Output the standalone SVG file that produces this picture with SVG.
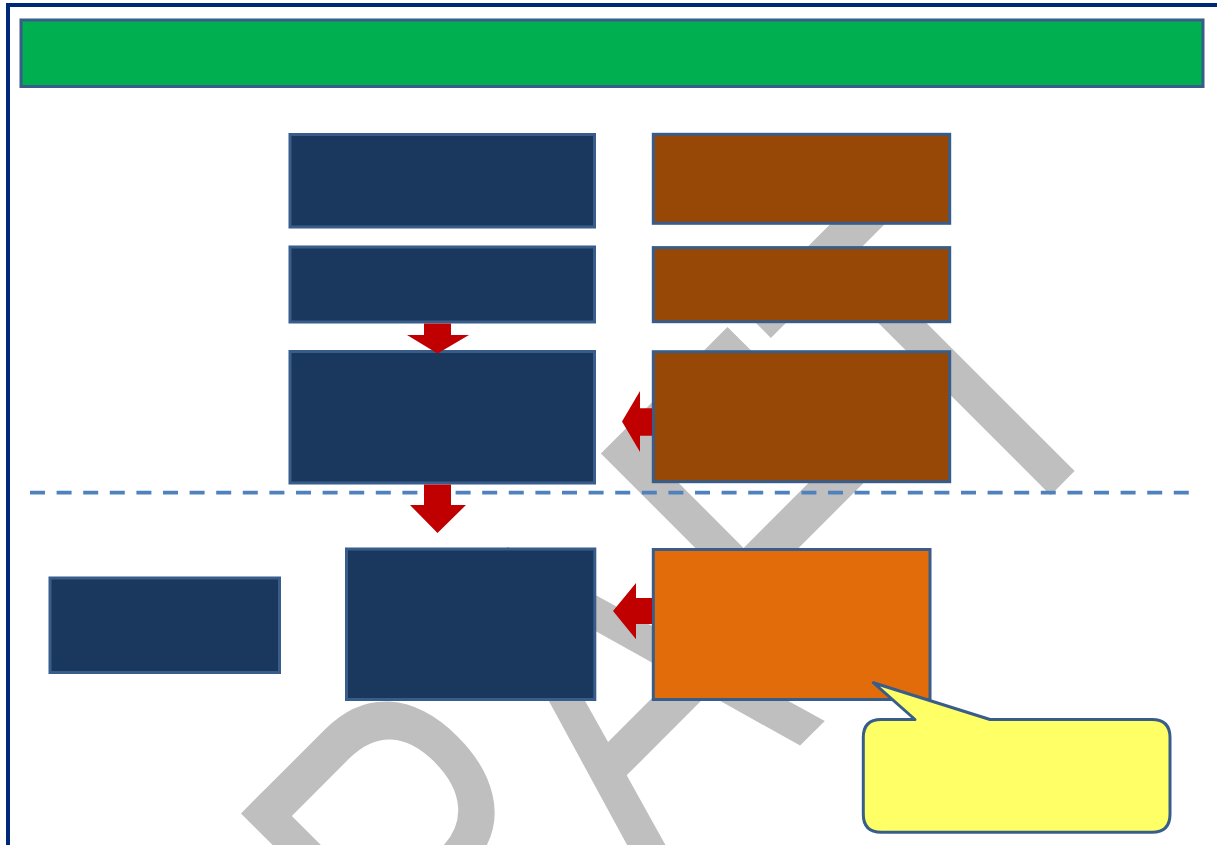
<svg xmlns="http://www.w3.org/2000/svg" width="1217" height="845" viewBox="0 0 1217 845">
  <style>
    .navy { fill: #1a385e; stroke: #385d8a; stroke-width: 3; }
    .brown { fill: #974806; stroke: #385d8a; stroke-width: 3; }
    .orange { fill: #e36c0a; stroke: #385d8a; stroke-width: 3; }
    .arrow { fill: #c00000; stroke: none; }
    .wm { fill: #bfbfbf; font-family: "Liberation Sans", Arial, sans-serif; font-size: 505px; font-kerning: none; }
  </style>
  <rect x="0" y="0" width="1217" height="845" fill="#ffffff"/>
  <rect x="8" y="5" width="1240" height="870" fill="none" stroke="#002878" stroke-width="4"/>

  <g id="watermark">
    <text class="wm" transform="rotate(-45) scale(0.7255 1)" x="-964" y="1093">DRAFT</text>
  </g>

  <g id="title-bar">
    <rect x="21" y="20" width="1182" height="66.5" fill="#00b050" stroke="#385d8a" stroke-width="3"/>
  </g>

  <line id="divider" x1="30" y1="492.5" x2="1190" y2="492.5" stroke="#4f81bd" stroke-width="3.75" stroke-dasharray="15 11.6"/>

  <g id="node-n1"><rect class="navy" x="290" y="134.5" width="304.5" height="92.5"/></g>
  <g id="node-n2"><rect class="navy" x="290" y="247" width="304.5" height="75"/></g>
  <g id="node-n3"><rect class="navy" x="290" y="351.5" width="304.5" height="131.5"/></g>
  <g id="node-n4"><rect class="navy" x="346.5" y="549" width="248.3" height="150.5"/></g>
  <g id="node-n5"><rect class="navy" x="50" y="578" width="229.5" height="94.5"/></g>

  <g id="node-b1"><rect class="brown" x="653.3" y="134.3" width="296.4" height="89"/></g>
  <g id="node-b2"><rect class="brown" x="653.3" y="247.6" width="296.4" height="74.1"/></g>
  <g id="node-b3"><rect class="brown" x="653.3" y="351.7" width="296.4" height="130"/></g>
  <g id="node-o1"><rect class="orange" x="653.3" y="549.5" width="276.7" height="150"/></g>

  <g id="connectors">
    <polygon class="arrow" points="424,323.5 451,323.5 451,335 469,335 437.5,353.5 407,335 424,335"/>
    <polygon class="arrow" points="424,484.5 451,484.5 451,505 466,505 437.5,533 410,505 424,505"/>
    <polygon class="arrow" points="652,408.3 640,408.3 640,391 622,421.5 640,452 640,435.7 652,435.7"/>
    <polygon class="arrow" points="652,598 636,598 636,583 613,611 636,639.3 636,624 652,624"/>
  </g>

  <g id="callout">
    <path d="M 881,719.5 L 915,719.5 L 873.3,682.7 L 990,719.5 L 1152,719.5 Q 1170,719.5 1170,737.5 L 1170,814.3 Q 1170,832.3 1152,832.3 L 881.3,832.3 Q 863.3,832.3 863.3,814.3 L 863.3,737.5 Q 863.3,719.5 881,719.5 Z" fill="#ffff66" stroke="#385d8a" stroke-width="3" stroke-linejoin="round"/>
  </g>
</svg>
